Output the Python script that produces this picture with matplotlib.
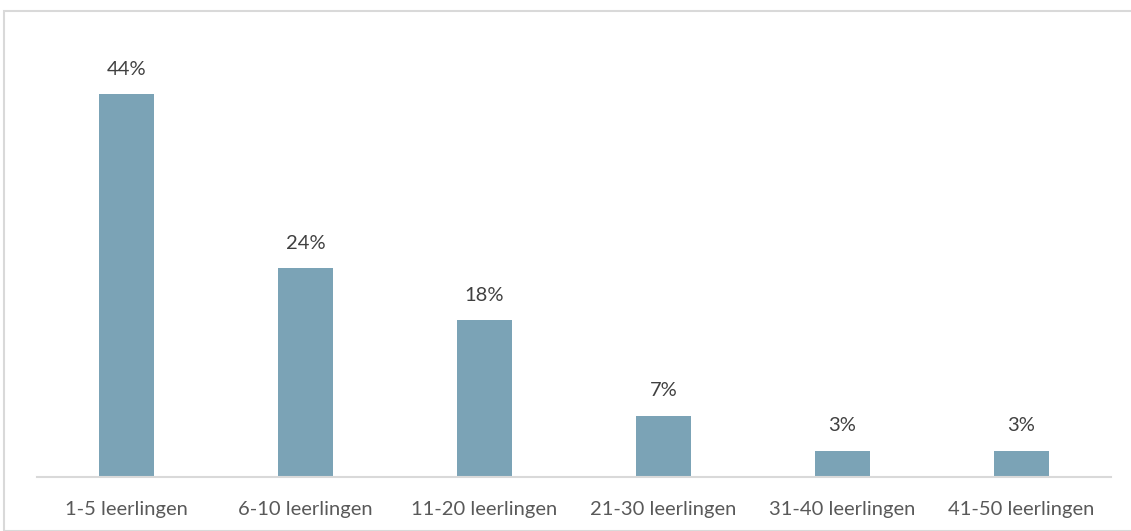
import matplotlib.pyplot as plt
from matplotlib.patches import Rectangle

categorieen = ['1-5 leerlingen', '6-10 leerlingen', '11-20 leerlingen',
               '21-30 leerlingen', '31-40 leerlingen', '41-50 leerlingen']
waarden = [44, 24, 18, 7, 3, 3]
labels = ['44%', '24%', '18%', '7%', '3%', '3%']

plt.rcParams['font.family'] = ['Lato', 'DejaVu Sans']

fig = plt.figure(figsize=(11.31, 5.31), dpi=100)
W, H = 1131, 531

# kader rond de grafiek
fig.patches.append(Rectangle((4 / W, 0), 1.2, (531 - 11) / H, transform=fig.transFigure,
                             fill=False, edgecolor='#D9D9D9', linewidth=1.5))

ax = fig.add_axes([37 / W, (H - 477) / H, 1074 / W, 435 / H])
x = range(len(categorieen))
ax.bar(x, waarden, width=0.31, color='#7BA3B6')

for i, (v, lab) in enumerate(zip(waarden, labels)):
    ax.annotate(lab, (i, v), xytext=(0, 12), textcoords='offset points',
                ha='center', va='bottom', fontsize=14.5, color='#404040')

ax.set_xlim(-0.5, 5.5)
ax.set_ylim(0, 50)
ax.set_xticks(list(x))
ax.set_xticklabels(categorieen, fontsize=14.5, color='#595959')
ax.tick_params(axis='x', length=0, pad=17)
ax.set_yticks([])
for s in ['top', 'right', 'left']:
    ax.spines[s].set_visible(False)
ax.spines['bottom'].set_color('#D9D9D9')
ax.spines['bottom'].set_linewidth(1.5)

fig.savefig('out.png', dpi=100)
